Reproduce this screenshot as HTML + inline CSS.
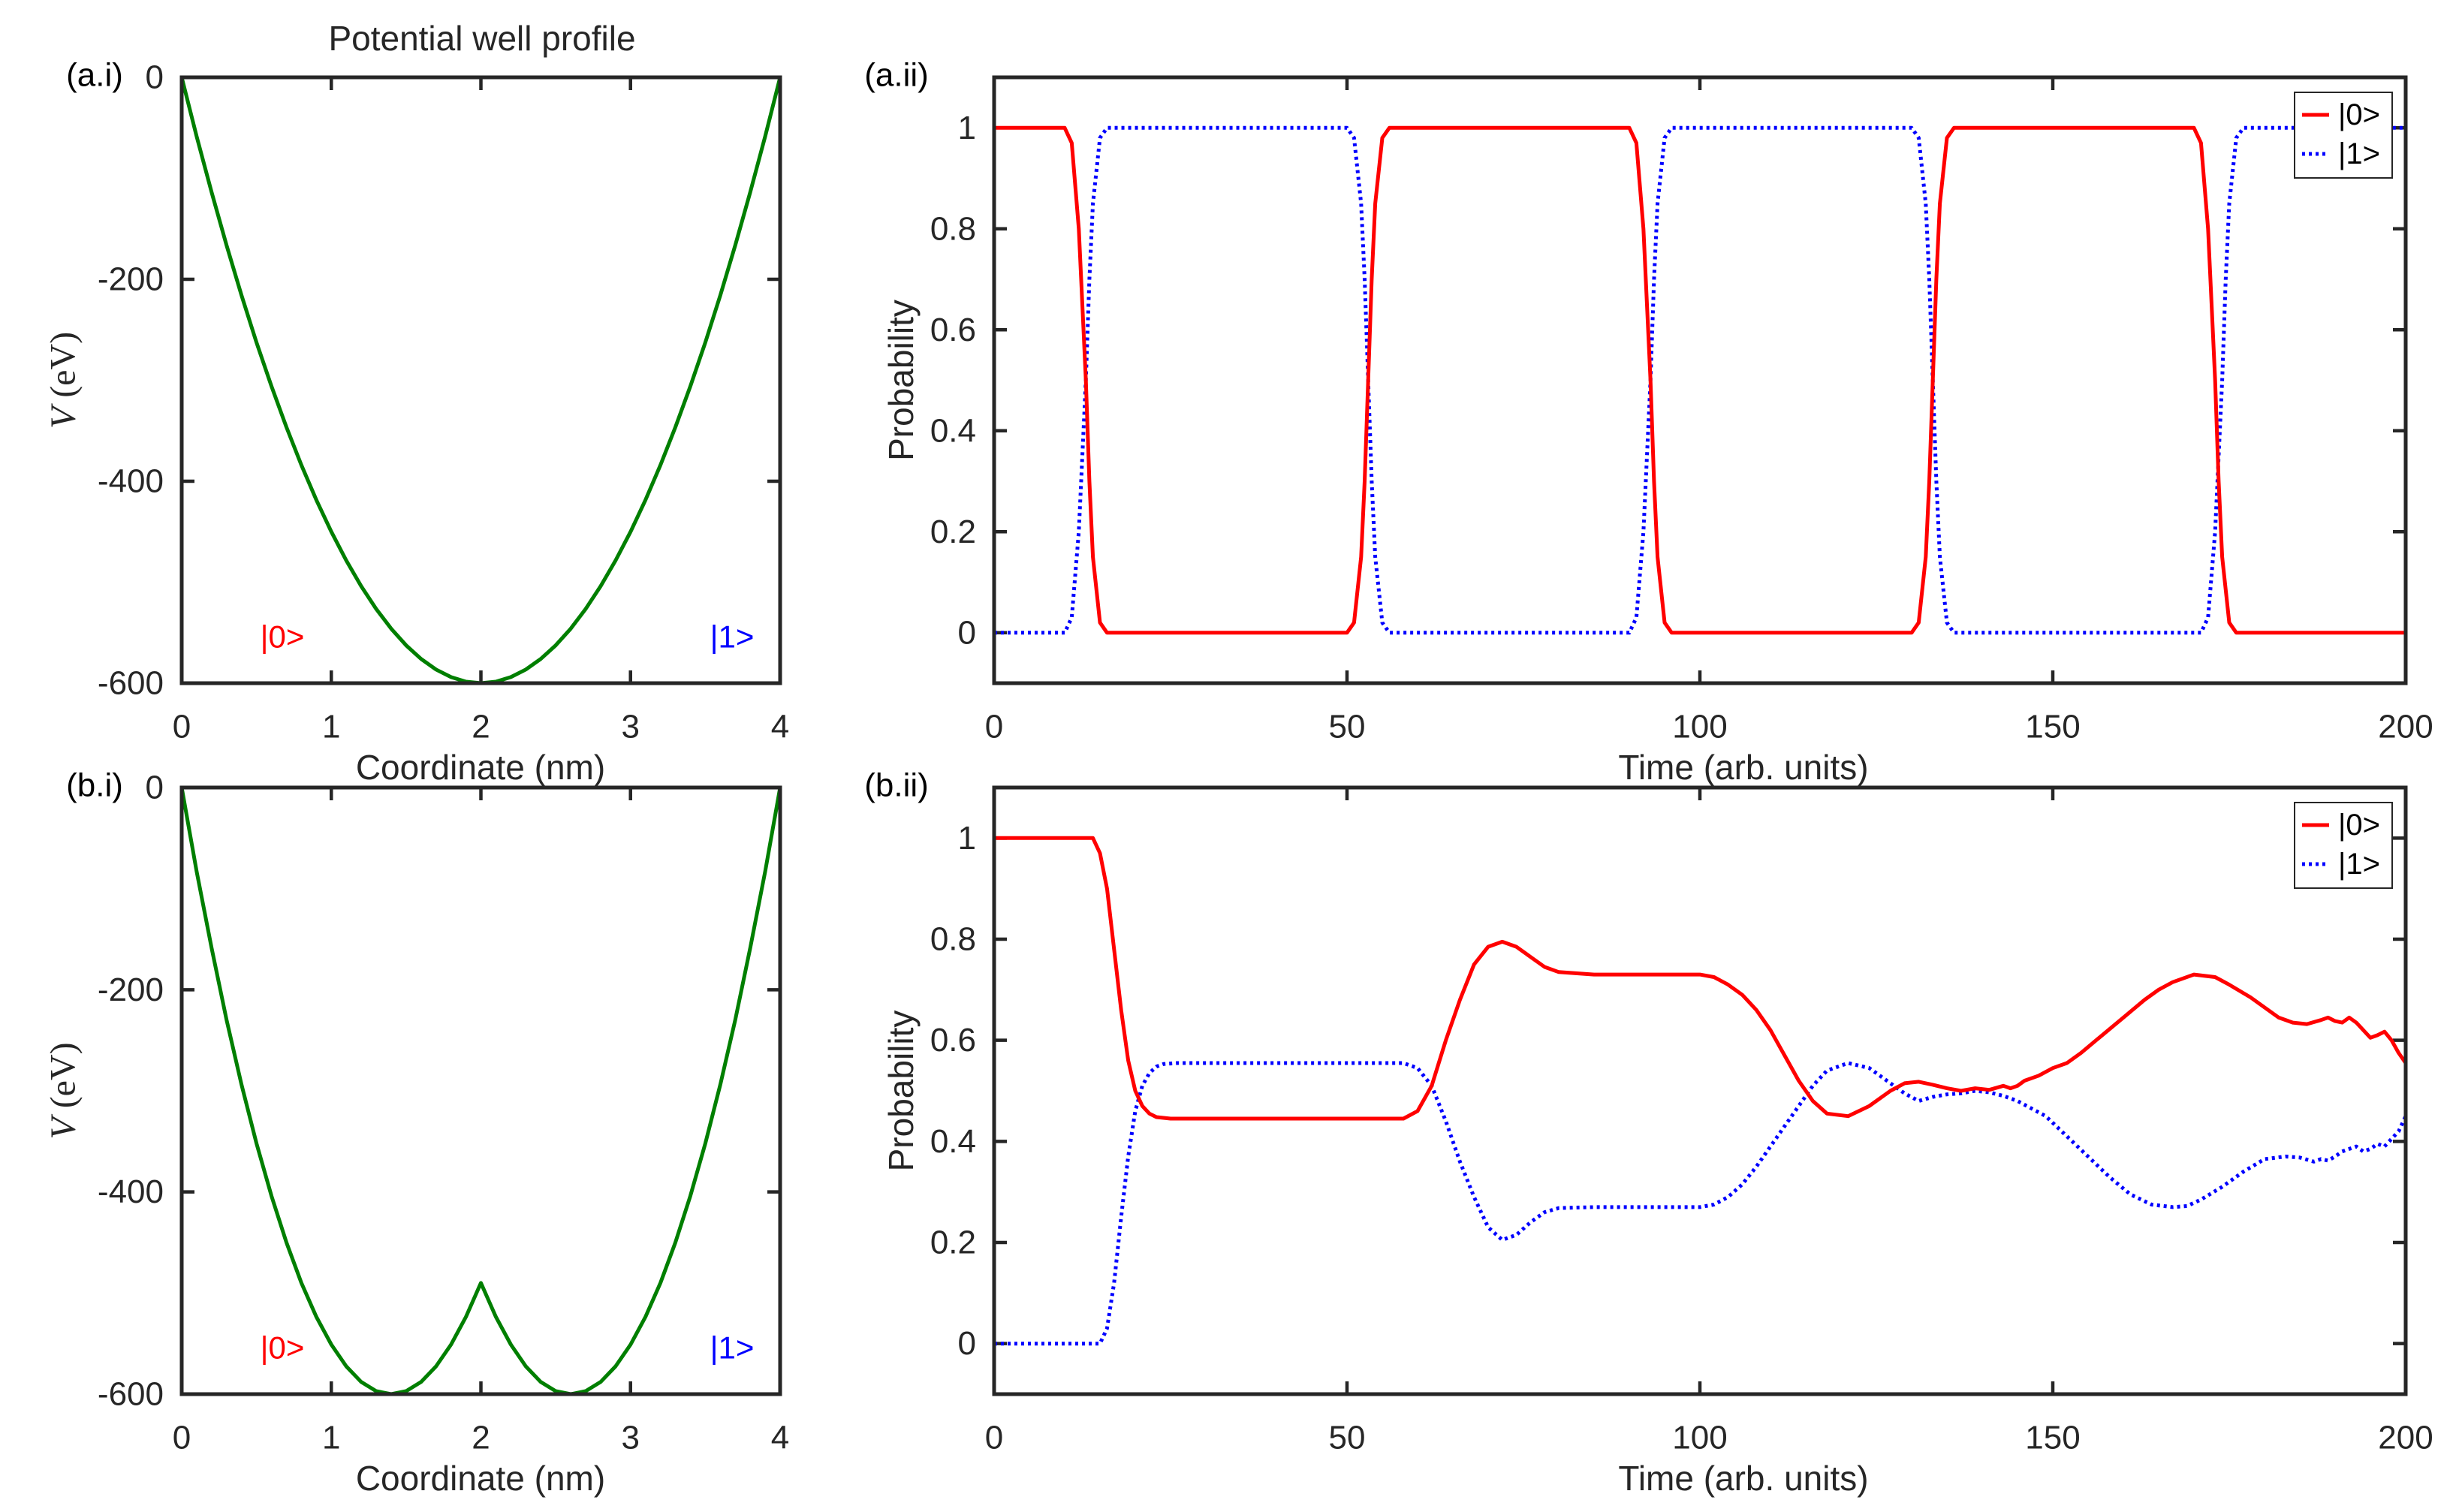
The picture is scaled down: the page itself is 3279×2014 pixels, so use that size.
<!DOCTYPE html>
<html><head><meta charset="utf-8">
<style>
html,body{margin:0;padding:0;background:#fff;}
svg{display:block;}
text{font-family:"Liberation Sans",sans-serif;fill:#262626;}
</style></head>
<body>
<svg id="fig" width="3279" height="2014" viewBox="0 0 3279 2014" xmlns="http://www.w3.org/2000/svg"></svg>
<script>
// ---- data ----
const xCoord = [0,0.1,0.2,0.3,0.4,0.5,0.6,0.7,0.8,0.9,1.0,1.1,1.2,1.3,1.4,1.5,1.6,1.7,1.8,1.9,2.0,2.1,2.2,2.3,2.4,2.5,2.6,2.7,2.8,2.9,3.0,3.1,3.2,3.3,3.4,3.5,3.6,3.7,3.8,3.9,4.0];
const vSingle = [0,-58.5,-114,-166.5,-216,-262.5,-306,-346.5,-384,-418.5,-450,-478.5,-504,-526.5,-546,-562.5,-576,-586.5,-594,-598.5,-600,-598.5,-594,-586.5,-576,-562.5,-546,-526.5,-504,-478.5,-450,-418.5,-384,-346.5,-306,-262.5,-216,-166.5,-114,-58.5,0];
const vDouble = [0,-83,-159,-230,-294,-352,-404,-450,-490,-523.5,-551,-572.5,-588,-597,-600,-597,-588,-572.5,-551,-523.5,-490,-523.5,-551,-572.5,-588,-597,-600,-597,-588,-572.5,-551,-523.5,-490,-450,-404,-352,-294,-230,-159,-83,0];
const xTicksL = [0,1,2,3,4];
const yTicksL = [0,-200,-400,-600];

const tA = [0,10,11,12,12.5,13,13.5,14,15,16,50,51,52,52.5,53,53.5,54,55,56,90,91,92,92.5,93,93.5,94,95,96,130,131,132,132.5,133,133.5,134,135,136,170,171,172,172.5,173,173.5,174,175,176,200];
const p0A = [1,1,0.97,0.8,0.65,0.5,0.3,0.15,0.02,0,0,0.02,0.15,0.3,0.5,0.7,0.85,0.98,1,1,0.97,0.8,0.65,0.5,0.3,0.15,0.02,0,0,0.02,0.15,0.3,0.5,0.7,0.85,0.98,1,1,0.97,0.8,0.65,0.5,0.3,0.15,0.02,0,0];
const tA1 = [0,10,11,12,12.5,13,13.5,14,15,16,50,51,52,52.5,53,53.5,54,55,56,90,91,92,92.5,93,93.5,94,95,96,130,131,132,132.5,133,133.5,134,135,136,171,172,173,173.5,174,174.5,175,176,177,200];
const p1A = [0,0,0.03,0.2,0.35,0.5,0.7,0.85,0.98,1,1,0.98,0.85,0.7,0.5,0.3,0.15,0.02,0,0,0.03,0.2,0.35,0.5,0.7,0.85,0.98,1,1,0.98,0.85,0.7,0.5,0.3,0.15,0.02,0,0,0.03,0.2,0.35,0.5,0.7,0.85,0.98,1,1];

const tB = [0,14,15,16,17,18,19,20,21,22,23,25,30,40,50,58,60,62,64,66,68,70,72,74,76,78,80,85,90,95,100,102,104,106,108,110,112,114,116,118,121,124,127,129,131,133,135,137,139,141,143,144,145,146,148,150,152,154,157,160,163,165,167,170,173,175,178,180,182,184,186,188,189,190,191,192,193,194,195,196,197,198,199,200];
const p0B = [1,1,0.97,0.9,0.78,0.66,0.56,0.5,0.47,0.455,0.448,0.445,0.445,0.445,0.445,0.445,0.46,0.51,0.6,0.68,0.75,0.785,0.795,0.785,0.765,0.745,0.735,0.73,0.73,0.73,0.73,0.725,0.71,0.69,0.66,0.62,0.57,0.52,0.48,0.455,0.45,0.47,0.5,0.515,0.518,0.512,0.505,0.5,0.505,0.502,0.51,0.505,0.51,0.52,0.53,0.545,0.555,0.575,0.61,0.645,0.68,0.7,0.715,0.73,0.725,0.71,0.685,0.665,0.645,0.635,0.632,0.64,0.645,0.638,0.635,0.645,0.635,0.62,0.605,0.61,0.617,0.6,0.575,0.555];
const tB1 = [0,15,16,17,18,19,20,21,22,23,24,26,30,40,50,58,60,62,64,66,68,70,72,74,76,78,80,85,90,95,100,102,104,106,108,110,112,114,116,118,121,124,127,129,131,133,135,137,139,141,143,145,147,149,152,155,158,161,164,167,169,171,174,177,180,183,185,187,188,189,190,191,192,193,194,195,196,197,198,199,200];
const p1B = [0,0,0.03,0.12,0.25,0.37,0.46,0.51,0.535,0.548,0.553,0.555,0.555,0.555,0.555,0.555,0.545,0.51,0.44,0.36,0.29,0.23,0.205,0.215,0.24,0.26,0.268,0.27,0.27,0.27,0.27,0.275,0.29,0.315,0.35,0.39,0.43,0.47,0.51,0.54,0.555,0.545,0.515,0.495,0.48,0.488,0.493,0.495,0.5,0.497,0.49,0.48,0.465,0.45,0.41,0.37,0.33,0.295,0.275,0.27,0.272,0.285,0.31,0.34,0.365,0.37,0.368,0.36,0.365,0.362,0.37,0.38,0.385,0.39,0.38,0.385,0.395,0.39,0.405,0.42,0.45];
const xTicksR = [0,50,100,150,200];
const yTicksR = [0,0.2,0.4,0.6,0.8,1];

// ---- helpers ----
const NS = "http://www.w3.org/2000/svg";
const svg = document.getElementById('fig');
function mk(tag, attrs, parent){
  const e = document.createElementNS(NS, tag);
  for (const k in attrs) e.setAttribute(k, attrs[k]);
  (parent||svg).appendChild(e);
  return e;
}
function txt(s, x, y, size, anchor, parent, fill){
  const t = mk('text', {x:x, y:y, 'font-size':size, 'text-anchor':anchor||'middle', 'dominant-baseline':'central'}, parent);
  if (fill) t.setAttribute('style','fill:'+fill);
  t.textContent = s;
  return t;
}
function axes(name, box, xmin, xmax, ymin, ymax, xt, yt, ytFmt){
  const g = mk('g', {});
  
  
  const sx = v => box.x0 + (v - xmin) / (xmax - xmin) * (box.x1 - box.x0);
  const sy = v => box.y1 - (v - ymin) / (ymax - ymin) * (box.y1 - box.y0);
  const ticks = mk('g', {stroke:'#262626','stroke-width':4.5}, g);
  xt.forEach(v => {
    const x = sx(v);
    mk('line', {x1:x, x2:x, y1:box.y1, y2:box.y1-17}, ticks);
    mk('line', {x1:x, x2:x, y1:box.y0, y2:box.y0+17}, ticks);
    const l = txt(String(v), x, box.y1+58, 44, 'middle', g);
    
    
  });
  yt.forEach(v => {
    const y = sy(v);
    mk('line', {x1:box.x0, x2:box.x0+17, y1:y, y2:y}, ticks);
    mk('line', {x1:box.x1, x2:box.x1-17, y1:y, y2:y}, ticks);
    const l = txt(ytFmt(v), box.x0-24, y, 44, 'end', g);
    
    
  });
  return {g, sx, sy};
}
function frame(g, box){
  const r = mk('rect', {x:box.x0, y:box.y0, width:box.x1-box.x0, height:box.y1-box.y0, fill:'none', stroke:'#262626', 'stroke-width':5}, g);
  
  
}
function series(ax, xs, ys, color, dash, name){
  const d = xs.map((v,i) => (i?'L':'M') + ax.sx(v).toFixed(1) + ' ' + ax.sy(ys[i]).toFixed(1)).join(' ');
  const p = mk('path', {d:d, fill:'none', stroke:color, 'stroke-width':5, 'stroke-linejoin':'round'}, ax.g);
  if (dash) p.setAttribute('stroke-dasharray', dash);
  
  
  return p;
}
function legend(g, x0, y0){
  const lg = mk('g', {}, g);
  
  
  mk('rect', {x:x0, y:y0, width:130, height:114, fill:'#fff', stroke:'#262626', 'stroke-width':2}, lg);
  mk('line', {x1:x0+10, x2:x0+46, y1:y0+30, y2:y0+30, stroke:'#ff0000', 'stroke-width':5}, lg);
  mk('line', {x1:x0+10, x2:x0+46, y1:y0+82, y2:y0+82, stroke:'#0000ff', 'stroke-width':5, 'stroke-dasharray':'4 5'}, lg);
  const a = txt('|0>', x0+58, y0+30, 40, 'start', lg, '#000');
  
  
  const b = txt('|1>', x0+58, y0+82, 40, 'start', lg, '#000');
  
  
}
const fmtL = v => String(v);
const fmtR = v => String(v);

// ---- left panels ----
[[{x0:242,x1:1039,y0:103,y1:910}, vSingle, '(a.i)', 'panel-a-i'],
 [{x0:242,x1:1039,y0:1049,y1:1857}, vDouble, '(b.i)', 'panel-b-i']].forEach(([box, vals, lab, nm]) => {
  const ax = axes(nm, box, 0, 4, -600, 0, xTicksL, yTicksL, fmtL);
  series(ax, xCoord, vals, '#007f00', null, 'potential-curve');
  frame(ax.g, box);
  const pl = txt(lab, 126, box.y0-3, 44, 'middle', ax.g, '#000');
  
  
  const xl = txt('Coordinate (nm)', 640, box.y1+112, 46, 'middle', ax.g);
  
  
  const yl = mk('text', {x:0, y:0, 'font-size':48, 'text-anchor':'middle', 'dominant-baseline':'central', transform:'translate(84,'+((box.y0+box.y1)/2)+') rotate(-90)', style:'font-family:"Liberation Serif",serif;fill:#262626'}, ax.g);
  yl.innerHTML = '<tspan font-style="italic">V</tspan>  (eV)';
  
  
  const s0 = txt('|0>', 376, box.y1-62, 42, 'middle', ax.g, '#ff0000');
  
  
  const s1 = txt('|1>', 975, box.y1-62, 42, 'middle', ax.g, '#0000ff');
  
  
});
const title = txt('Potential well profile', 642, 51, 46, 'middle');



// ---- right panels ----
[[{x0:1324,x1:3204,y0:103,y1:910}, tA, p0A, tA1, p1A, '(a.ii)', 'panel-a-ii'],
 [{x0:1324,x1:3204,y0:1049,y1:1857}, tB, p0B, tB1, p1B, '(b.ii)', 'panel-b-ii']].forEach(([box, t0, v0, t1, v1, lab, nm]) => {
  const ax = axes(nm, box, 0, 200, -0.1, 1.1, xTicksR, yTicksR, fmtR);
  series(ax, t1, v1, '#0000ff', '4 5', 'series-state-1');
  series(ax, t0, v0, '#ff0000', null, 'series-state-0');
  frame(ax.g, box);
  legend(ax.g, 3056, box.y0+20);
  const pl = txt(lab, 1194, box.y0-3, 44, 'middle', ax.g, '#000');
  
  
  const xl = txt('Time (arb. units)', 2322, box.y1+112, 46, 'middle', ax.g);
  
  
  const yl = mk('text', {x:0, y:0, 'font-size':46, 'text-anchor':'middle', 'dominant-baseline':'central', transform:'translate(1200,'+((box.y0+box.y1)/2)+') rotate(-90)'}, ax.g);
  yl.textContent = 'Probability';
  
  
});
</script>
</body></html>
